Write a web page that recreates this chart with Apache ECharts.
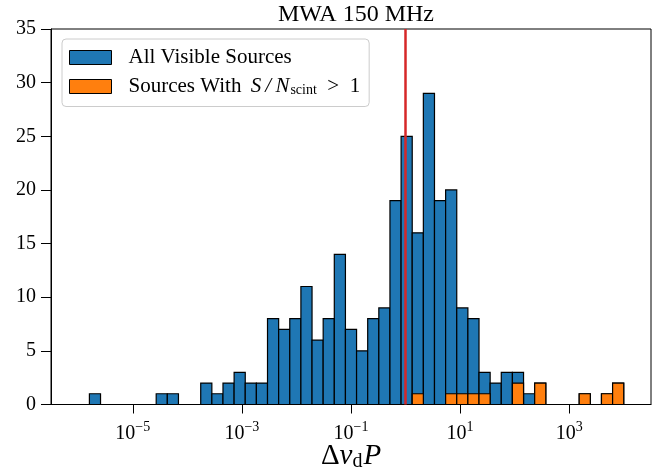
<!DOCTYPE html>
<html><head><meta charset="utf-8">
<script src="https://cdn.jsdelivr.net/npm/echarts@6/dist/echarts.min.js"></script>
<style>html,body{margin:0;padding:0;background:#fff}#c{width:672px;height:472px}</style>
</head><body><div id="c"></div>
<script>
// ---- data ----
const titleText = 'MWA 150 MHz';
const seriesNames = ['All Visible Sources', 'Sources With S/N_scint > 1'];
const binLogMin = -6;   // bins: log-spaced from 1e-6 to 1e4
const binLogMax = 4;
const allCounts = [0,1,0,0,0,0,0,1,1,0,0,2,1,2,3,2,2,8,7,8,11,6,8,14,7,5,8,9,19,25,16,29,19,20,9,8,3,2,3,3,1,2,0,0,0,1,0,1,2];
const snrCounts = [0,0,0,0,0,0,0,0,0,0,0,0,0,0,0,0,0,0,0,0,0,0,0,0,0,0,0,0,0,0,1,0,0,1,1,1,1,0,0,2,0,2,0,0,0,1,0,1,2];
const xTickExps = [-5,-3,-1,1,3];
const yTicks = [0,5,10,15,20,25,30,35];
const refLineLog = 0; // Δν_d P = 1

// ---- chart ----
const F = '"Liberation Serif", "DejaVu Serif", serif';
const nBins = allCounts.length;
const binW = (binLogMax - binLogMin) / nBins;
function toData(counts) {
  return counts.map((c, i) => [binLogMin + i * binW, binLogMin + (i + 1) * binW, c]);
}
function renderHist(color) {
  return function (params, api) {
    const x0 = api.value(0), x1 = api.value(1), c = api.value(2);
    const p0 = api.coord([x0, c]);
    const p1 = api.coord([x1, 0]);
    return {
      type: 'rect',
      shape: { x: p0[0], y: p0[1], width: p1[0] - p0[0], height: p1[1] - p0[1] },
      style: { fill: color, stroke: '#000', lineWidth: 1.2 }
    };
  };
}
const blue = '#1f77b4', orange = '#ff7f0e';
const chart = echarts.init(document.getElementById('c'), null, { renderer: 'canvas' });
chart.setOption({
  animation: false,
  backgroundColor: '#fff',
  title: {
    text: titleText, left: 351, top: -2, textAlign: 'center',
    textStyle: { fontFamily: F, fontWeight: 'normal', fontSize: 24, color: '#000' }
  },
  grid: {
    left: 51, right: 21, top: 29, bottom: 67.5, show: true, borderColor: '#000', borderWidth: 1,
    containLabel: false, outerBoundsMode: 'none'
  },
  legend: {
    orient: 'vertical', left: 62, top: 39,
    itemWidth: 42, itemHeight: 14, itemGap: 8,
    padding: [8, 9, 9, 7],
    backgroundColor: '#fff', borderColor: '#cccccc', borderWidth: 1, borderRadius: 4,
    data: [
      { name: seriesNames[0], icon: 'rect', itemStyle: { color: blue, borderColor: '#000', borderWidth: 1 } },
      { name: seriesNames[1], icon: 'rect', itemStyle: { color: orange, borderColor: '#000', borderWidth: 1 } }
    ],
    formatter: function (name) {
      if (name === seriesNames[1]) return '{t|Sources With }{m|S\u2009/\u2009N}{s|scint}{t|  >  1}';
      return '{t|' + name + '}';
    },
    textStyle: {
      padding: [0, 0, 0, 12],
      rich: {
        t: { fontFamily: F, fontSize: 21, color: '#000' },
        m: { fontFamily: F, fontSize: 21, color: '#000', fontStyle: 'italic', padding: [0, 1, 0, 4] },
        s: { fontFamily: F, fontSize: 14, color: '#000', padding: [8, 0, 0, 0] }
      }
    }
  },
  xAxis: {
    type: 'value', min: -6.5, max: 4.5,
    splitLine: { show: false },
    axisLine: { show: true, onZero: false, lineStyle: { color: '#000', width: 1 } },
    axisTick: { show: true, length: 9, customValues: xTickExps, lineStyle: { color: '#000', width: 1 } },
    axisLabel: {
      customValues: xTickExps, margin: 16,
      formatter: function (v) { return '{b|10}{e|' + (v < 0 ? '\u2212' : '') + Math.abs(v) + '}'; },
      rich: {
        b: { fontFamily: F, fontSize: 20, color: '#000' },
        e: { fontFamily: F, fontSize: 14, color: '#000', padding: [0, 0, 12, 0] }
      }
    },
    name: '{a|\u0394}{i|\u03bd}{s|d}{i|P}',
    nameLocation: 'middle', nameGap: 37, nameMoveOverlap: false,
    nameTextStyle: {
      rich: {
        a: { fontFamily: F, fontSize: 29, color: '#000' },
        i: { fontFamily: F, fontSize: 29, fontStyle: 'italic', color: '#000' },
        s: { fontFamily: F, fontSize: 20, color: '#000', padding: [10, 1, 0, 0] }
      }
    }
  },
  yAxis: {
    type: 'value', min: 0, max: 35, interval: 5,
    splitLine: { show: false },
    axisLine: { show: true, onZero: false, lineStyle: { color: '#000', width: 1 } },
    axisTick: { show: true, length: 10, lineStyle: { color: '#000', width: 1 } },
    axisLabel: { margin: 15, fontFamily: F, fontSize: 20, color: '#000' }
  },
  series: [
    {
      name: seriesNames[0], type: 'custom', renderItem: renderHist(blue),
      itemStyle: { color: blue, borderColor: '#000', borderWidth: 1 },
      encode: { x: [0, 1], y: 2 }, data: toData(allCounts), z: 2
    },
    {
      name: seriesNames[1], type: 'custom', renderItem: renderHist(orange),
      itemStyle: { color: orange, borderColor: '#000', borderWidth: 1 },
      encode: { x: [0, 1], y: 2 }, data: toData(snrCounts), z: 3,
      markLine: {
        silent: true, symbol: 'none', label: { show: false },
        lineStyle: { color: '#d62728', width: 2.5, type: 'solid' },
        emphasis: { disabled: true },
        data: [{ xAxis: refLineLog }]
      }
    }
  ]
});
</script></body></html>
